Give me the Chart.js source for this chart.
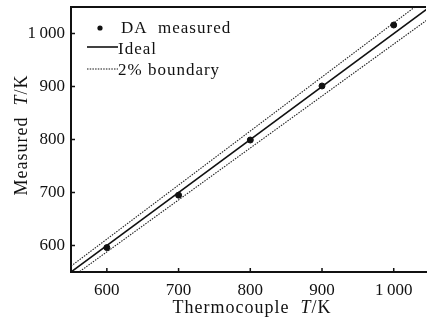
<!DOCTYPE html>
<html>
<head>
<meta charset="utf-8">
<script src="https://cdn.jsdelivr.net/npm/chart.js@4.4.1/dist/chart.umd.min.js"></script>
<style>
  html, body { margin: 0; padding: 0; background: #fff; }
  #wrap { width: 430px; height: 324px; }
</style>
</head>
<body>
<div id="wrap"><canvas id="chart" width="430" height="324"></canvas></div>
<script>
// values
const thermoX = [600, 700, 800, 900, 1000];
const measuredY = [596, 695, 799, 901, 1016];
const lineX = [550, 1050];
const idealY = [550, 1050];
const upperY = [561, 1071];
const lowerY = [539, 1029];
const tickValues = [600, 700, 800, 900, 1000];
const tickLabels = ["600", "700", "800", "900", "1\u2009000"];

const SERIF = "'Liberation Serif', 'Times New Roman', serif";
const INK = "#111";

const pts = (xs, ys) => xs.map((x, i) => ({ x, y: ys[i] }));

// draw a string made of plain / italic pieces
function drawRich(ctx, parts, size, x, y, align) {
  ctx.letterSpacing = "1px";
  const widths = parts.map(([t, it]) => {
    ctx.font = `${it ? "italic " : ""}${size}px ${SERIF}`;
    return ctx.measureText(t).width;
  });
  const total = widths.reduce((a, b) => a + b, 0);
  let cx = align === "center" ? x - total / 2 : x;
  parts.forEach(([t, it], i) => {
    ctx.font = `${it ? "italic " : ""}${size}px ${SERIF}`;
    ctx.fillText(t, cx, y);
    cx += widths[i];
  });
  ctx.letterSpacing = "0px";
}

const decor = {
  id: "decor",
  afterDraw(chart) {
    const { ctx, chartArea: a, scales } = chart;
    ctx.save();
    ctx.strokeStyle = INK;
    ctx.fillStyle = INK;

    // top frame line
    ctx.lineWidth = 2;
    ctx.beginPath();
    ctx.moveTo(a.left, a.top);
    ctx.lineTo(a.right, a.top);
    ctx.stroke();

    // inward ticks
    ctx.lineWidth = 1.5;
    ctx.beginPath();
    tickValues.forEach((v) => {
      const px = scales.x.getPixelForValue(v);
      ctx.moveTo(px, a.bottom);
      ctx.lineTo(px, a.bottom - 4);
      const py = scales.y.getPixelForValue(v);
      ctx.moveTo(a.left, py);
      ctx.lineTo(a.left + 4, py);
    });
    ctx.stroke();

    // legend
    ctx.textAlign = "left";
    ctx.textBaseline = "alphabetic";
    ctx.beginPath();
    ctx.arc(100, 28, 2.6, 0, Math.PI * 2);
    ctx.fill();
    drawRich(ctx, [["DA  measured", false]], 17, 121, 33, "left");

    ctx.lineWidth = 1.6;
    ctx.beginPath();
    ctx.moveTo(87, 47);
    ctx.lineTo(118, 47);
    ctx.stroke();
    drawRich(ctx, [["Ideal", false]], 17, 118, 54, "left");

    ctx.lineWidth = 1.1;
    ctx.setLineDash([1.5, 1.2]);
    ctx.beginPath();
    ctx.moveTo(87, 69);
    ctx.lineTo(118, 69);
    ctx.stroke();
    ctx.setLineDash([]);
    drawRich(ctx, [["2% boundary", false]], 17, 118, 75, "left");

    // axis titles
    drawRich(ctx, [["Thermocouple  ", false], ["T", true], ["/K", false]], 18, 252, 313, "center");
    ctx.save();
    ctx.translate(27, 135);
    ctx.rotate(-Math.PI / 2);
    drawRich(ctx, [["Measured  ", false], ["T", true], ["/K", false]], 18, 0, 0, "center");
    ctx.restore();

    ctx.restore();
  },
};

const tickFont = { family: SERIF, size: 17 };

new Chart(document.getElementById("chart"), {
  type: "scatter",
  data: {
    datasets: [
      {
        label: "DA measured",
        data: pts(thermoX, measuredY),
        backgroundColor: INK,
        borderColor: INK,
        pointRadius: 3,
        pointHoverRadius: 3,
      },
      {
        label: "Ideal",
        data: pts(lineX, idealY),
        showLine: true,
        borderColor: INK,
        borderWidth: 1.6,
        pointRadius: 0,
      },
      {
        label: "2% boundary",
        data: pts(lineX, upperY),
        showLine: true,
        borderColor: "#222",
        borderWidth: 1.1,
        borderDash: [1.5, 1.2],
        pointRadius: 0,
      },
      {
        label: "2% boundary low",
        data: pts(lineX, lowerY),
        showLine: true,
        borderColor: "#222",
        borderWidth: 1.1,
        borderDash: [1.5, 1.2],
        pointRadius: 0,
      },
    ],
  },
  options: {
    responsive: false,
    animation: false,
    devicePixelRatio: 1,
    layout: { padding: { top: 7, right: 0, bottom: 0, left: 0 } },
    plugins: { legend: { display: false }, tooltip: { enabled: false } },
    scales: {
      x: {
        type: "linear",
        min: 550,
        max: 1045,
        afterBuildTicks: (s) => { s.ticks = tickValues.map((value) => ({ value })); },
        afterFit: (s) => { s.height = 52; s.paddingLeft = 0; s.paddingRight = 0; },
        grid: { display: false, drawTicks: false },
        border: { display: true, color: INK, width: 2 },
        ticks: {
          color: INK,
          font: tickFont,
          padding: 8,
          maxRotation: 0,
          callback: (v) => tickLabels[tickValues.indexOf(v)],
        },
      },
      y: {
        type: "linear",
        min: 550,
        max: 1050,
        afterBuildTicks: (s) => { s.ticks = tickValues.map((value) => ({ value })); },
        afterFit: (s) => { s.width = 71; s.paddingTop = 0; s.paddingBottom = 0; },
        grid: { display: false, drawTicks: false },
        border: { display: true, color: INK, width: 2 },
        ticks: {
          color: INK,
          font: tickFont,
          padding: 6,
          callback: (v) => tickLabels[tickValues.indexOf(v)],
        },
      },
    },
  },
  plugins: [decor],
});
</script>
</body>
</html>
